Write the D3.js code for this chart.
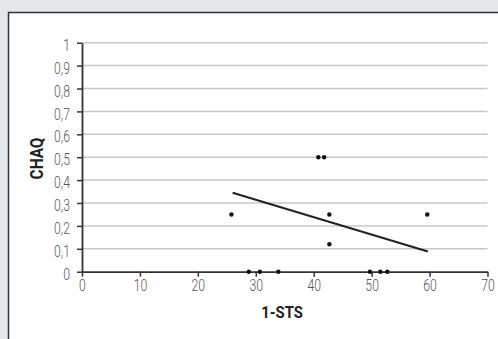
<!DOCTYPE html>
<html>
<head>
<meta charset="utf-8">
<script src="https://cdn.jsdelivr.net/npm/d3@7"></script>
<style>
  body { margin: 0; background: #e6e7e8; }
  svg { display: block; }
</style>
</head>
<body>
<svg id="chart" width="498" height="339"></svg>
<script>
// data
var stsValues  = [25.8, 28.8, 30.7, 33.9, 40.8, 41.8, 42.7, 42.7, 49.7, 51.5, 52.7, 59.6];
var chaqValues = [0.25, 0, 0, 0, 0.5, 0.5, 0.25, 0.12, 0, 0, 0, 0.25];
var trendX = [26, 59.7];
var trendY = [0.345, 0.088];
var xTicks = [0, 10, 20, 30, 40, 50, 60, 70];
var yTicks = [0, 0.1, 0.2, 0.3, 0.4, 0.5, 0.6, 0.7, 0.8, 0.9, 1];

var svg = d3.select('#chart');
var font = 'Roboto, sans-serif';
var squeeze = 0.72; // the original uses a condensed face

// white panel with dark top/left border
svg.append('rect')
  .attr('x', 8).attr('y', 12)
  .attr('width', 498).attr('height', 339)
  .attr('fill', '#fff');
svg.append('path')
  .attr('d', 'M8.5,339V12.5H498')
  .attr('fill', 'none')
  .attr('stroke', '#333')
  .attr('stroke-width', 1.5);

var x = d3.scaleLinear().domain([0, 70]).range([82, 487.5]);
var y = d3.scaleLinear().domain([0, 1]).range([271.7, 42.7]);

// gridlines
svg.append('g').selectAll('line')
  .data(yTicks.filter(function(d) { return d > 0; }))
  .enter().append('line')
  .attr('x1', x(0)).attr('x2', x(70))
  .attr('y1', function(d) { return y(d); })
  .attr('y2', function(d) { return y(d); })
  .attr('stroke', '#c8c8c8')
  .attr('stroke-width', 1.5);

var fmt = function(d) { return String(d).replace('.', ','); };

var yAxis = svg.append('g')
  .attr('transform', 'translate(' + x(0) + ',0)')
  .call(d3.axisLeft(y).tickValues(yTicks).tickFormat(fmt).tickSize(5).tickPadding(7).tickSizeOuter(0));
var xAxis = svg.append('g')
  .attr('transform', 'translate(0,' + y(0) + ')')
  .call(d3.axisBottom(x).tickValues(xTicks).tickSize(5).tickPadding(2).tickSizeOuter(0));

[yAxis, xAxis].forEach(function(g) {
  g.select('.domain').attr('stroke', '#333').attr('stroke-width', 1.8);
  g.selectAll('.tick line').attr('stroke', '#333').attr('stroke-width', 1.5);
  g.selectAll('.tick text')
    .attr('fill', '#555')
    .style('font-family', font)
    .style('font-weight', 300)
    .style('font-size', '17px');
});

yAxis.selectAll('.tick text')
  .attr('x', -12 / squeeze)
  .attr('dy', '0.45em')
  .attr('transform', 'scale(' + squeeze + ',1)');
xAxis.selectAll('.tick text')
  .attr('transform', 'scale(' + squeeze + ',1)');

// trend line
svg.append('line')
  .attr('x1', x(trendX[0])).attr('y1', y(trendY[0]))
  .attr('x2', x(trendX[1])).attr('y2', y(trendY[1]))
  .attr('stroke', '#222')
  .attr('stroke-width', 2);

// points
svg.append('g').selectAll('circle')
  .data(stsValues)
  .enter().append('circle')
  .attr('cx', function(d) { return x(d); })
  .attr('cy', function(d, i) { return y(chaqValues[i]); })
  .attr('r', 2.2)
  .attr('fill', '#111');

// axis titles
svg.append('text')
  .attr('transform', 'translate(282,318.3) scale(0.9,1)')
  .attr('text-anchor', 'middle')
  .style('font-family', font)
  .style('font-weight', 'bold')
  .style('font-size', '16.5px')
  .attr('fill', '#222')
  .text('1-STS');

svg.append('text')
  .attr('transform', 'translate(42.5,158.5) rotate(-90) scale(0.88,1)')
  .attr('text-anchor', 'middle')
  .style('font-family', font)
  .style('font-weight', 'bold')
  .style('font-size', '17.5px')
  .attr('fill', '#222')
  .text('CHAQ');
</script>
</body>
</html>
